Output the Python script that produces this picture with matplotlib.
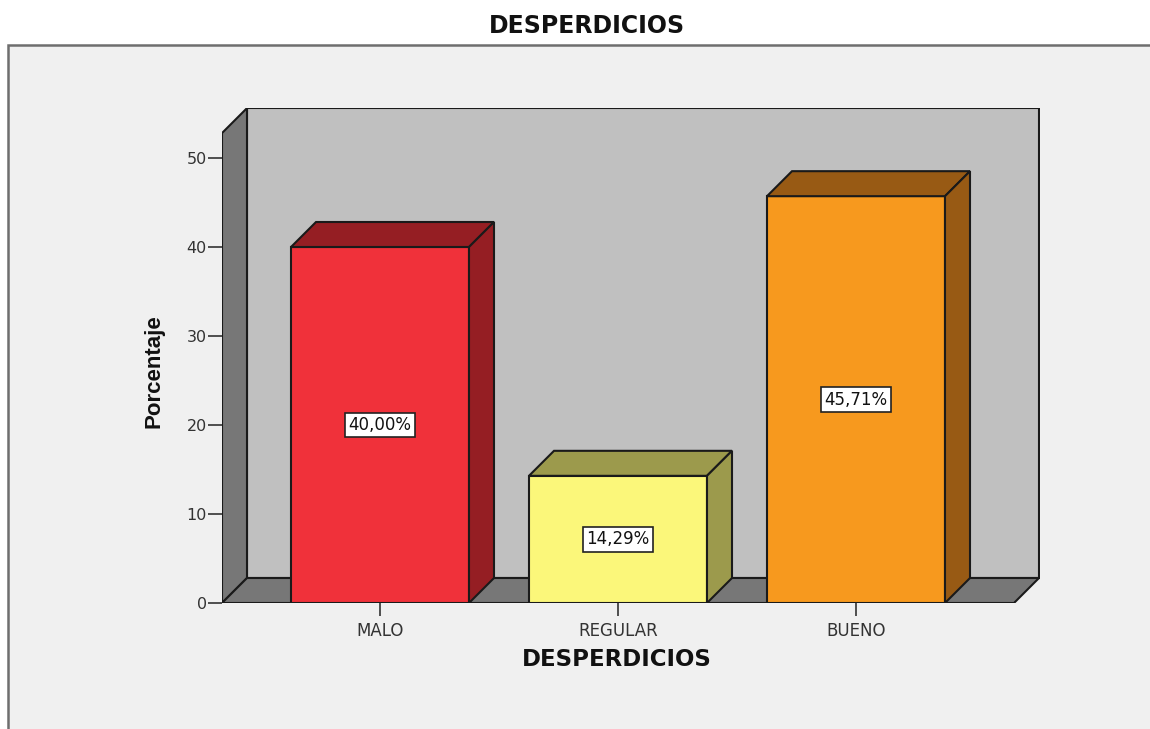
import matplotlib
matplotlib.use("Agg")
import matplotlib.pyplot as plt
from matplotlib.patches import Polygon, Rectangle

categories = ["MALO", "REGULAR", "BUENO"]
values = [40.00, 14.29, 45.71]
value_labels = ["40,00%", "14,29%", "45,71%"]
yticks = [0, 10, 20, 30, 40, 50]
title = "DESPERDICIOS"
xlabel = "DESPERDICIOS"
ylabel = "Porcentaje"

front_colors = ["#f0313a", "#fbf77a", "#f7991e"]
side_colors = ["#951e23", "#9c9a4c", "#985a14"]

W, H = 1150, 729
fig = plt.figure(figsize=(W / 100, H / 100), dpi=100)
fig.patch.set_facecolor("white")

# outer chart frame
fig.patches.append(Rectangle((8 / W, -0.1), 1.2, (729 - 45) / H + 0.1,
                             transform=fig.transFigure, facecolor="#f0f0f0",
                             edgecolor="#6e6e6e", linewidth=1.8, zorder=-1))

# geometry (pixels)
px_per_unit = 8.9
slot = 238.0
ax_left, ax_right, ax_bottom, ax_top = 222, 1040, 603, 108
ax = fig.add_axes([ax_left / W, (H - ax_bottom) / H,
                   (ax_right - ax_left) / W, (ax_bottom - ax_top) / H])
x0 = -158 / slot
ax.set_xlim(x0, x0 + (ax_right - ax_left) / slot)
ax.set_ylim(0, (ax_bottom - ax_top) / px_per_unit)
ax.patch.set_alpha(0)
for s in ax.spines.values():
    s.set_visible(False)

dx = 25 / slot
dy = 25 / px_per_unit
xf_end = 2 + 158 / slot
ytop = 52.8
ec = "#1a1a1a"
lw = 1.5

# back wall
ax.add_patch(Polygon([(x0 + dx, dy), (xf_end + dx, dy), (xf_end + dx, ytop + dy), (x0 + dx, ytop + dy)],
                     closed=True, facecolor="#c0c0c0", edgecolor=ec, linewidth=lw, zorder=1))
# left wall
ax.add_patch(Polygon([(x0, 0), (x0, ytop), (x0 + dx, ytop + dy), (x0 + dx, dy)],
                     closed=True, facecolor="#777777", edgecolor=ec, linewidth=lw, zorder=2))
# floor
ax.add_patch(Polygon([(x0, 0), (xf_end, 0), (xf_end + dx, dy), (x0 + dx, dy)],
                     closed=True, facecolor="#777777", edgecolor=ec, linewidth=lw, zorder=2))

bw = 178 / slot
for i, (v, fc, sc, lab) in enumerate(zip(values, front_colors, side_colors, value_labels)):
    l, r = i - bw / 2, i + bw / 2
    ax.add_patch(Polygon([(l, 0), (r, 0), (r, v), (l, v)], closed=True,
                         facecolor=fc, edgecolor=ec, linewidth=lw, zorder=4))
    ax.add_patch(Polygon([(l, v), (r, v), (r + dx, v + dy), (l + dx, v + dy)], closed=True,
                         facecolor=sc, edgecolor=ec, linewidth=lw, zorder=4))
    ax.add_patch(Polygon([(r, 0), (r + dx, dy), (r + dx, v + dy), (r, v)], closed=True,
                         facecolor=sc, edgecolor=ec, linewidth=lw, zorder=4))
    ax.text(i, v / 2, lab, ha="center", va="center", fontsize=12,
            family="DejaVu Sans", color="#111111", zorder=6,
            bbox=dict(boxstyle="square,pad=0.2", facecolor="white", edgecolor="#222222", linewidth=1.2))

ax.set_yticks(yticks)
ax.set_yticklabels([str(t) for t in yticks])
ax.set_xticks(range(len(categories)))
ax.set_xticklabels(categories)
ax.tick_params(axis="y", length=10, width=1.2, color="#333333", pad=1,
               labelsize=11.5, labelcolor="#333333")
ax.tick_params(axis="x", length=9, width=1.2, color="#333333", pad=5,
               labelsize=12, labelcolor="#333333")
for t in ax.get_xticklabels() + ax.get_yticklabels():
    t.set_family("DejaVu Sans")

fig.text(587 / W, 1 - 26 / H, title, ha="center", va="center", fontsize=17,
         fontweight="bold", family="DejaVu Sans", color="#111111")
fig.text(617 / W, 1 - 659 / H, xlabel, ha="center", va="center", fontsize=16.5,
         fontweight="bold", family="DejaVu Sans", color="#111111")
fig.text(154 / W, 1 - 371 / H, ylabel, ha="center", va="center", fontsize=16,
         fontweight="bold", family="Liberation Sans", color="#111111", rotation=90)

fig.savefig("out.png", dpi=100)
